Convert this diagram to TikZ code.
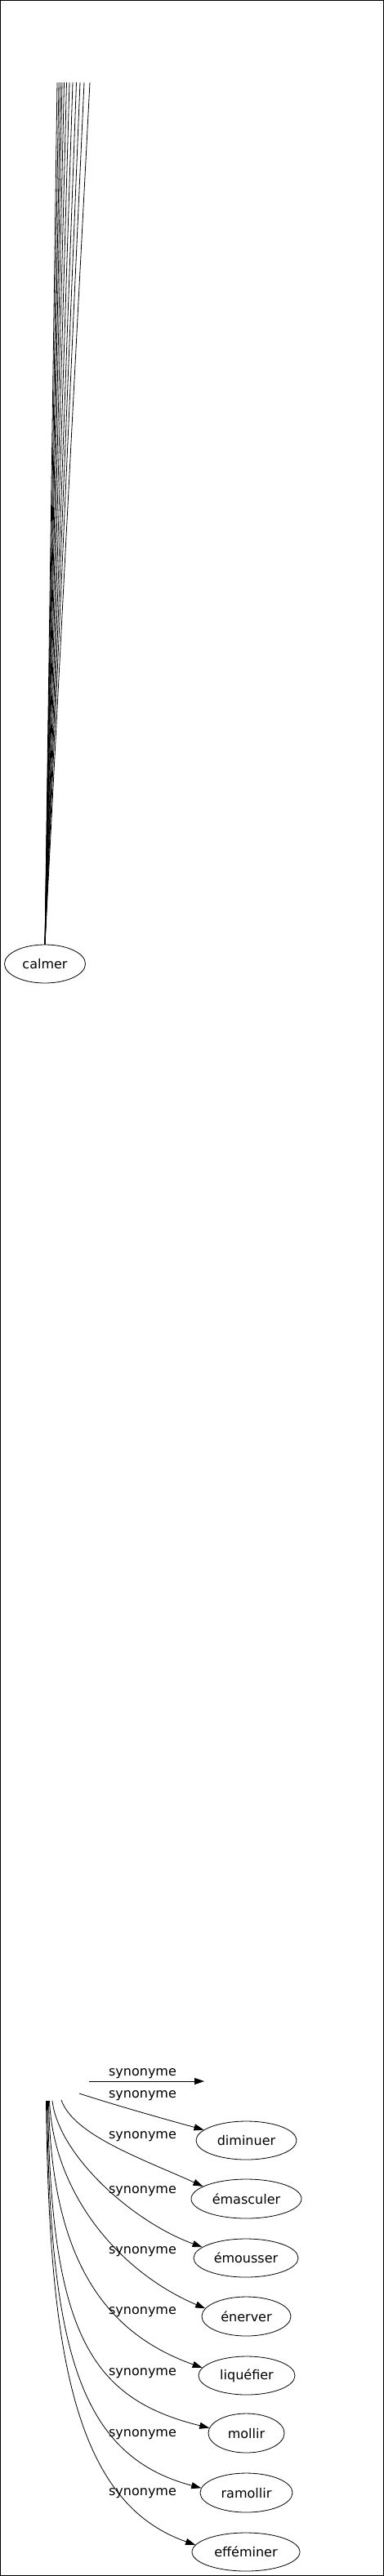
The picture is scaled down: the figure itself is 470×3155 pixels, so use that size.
\documentclass[tikz,border=0pt]{standalone}
\usepackage{fontspec}
\setmainfont{DejaVu Sans}
\usetikzlibrary{arrows.meta,shapes.geometric}
\begin{document}
\begin{tikzpicture}[x=1pt,y=-1pt,
  lemma/.style={draw, ellipse, inner sep=0pt, line width=0.8pt, font=\fontsize{16}{19}\selectfont},
  lbl/.style={inner sep=0pt, font=\fontsize{16}{19}\selectfont},
  syn/.style={line width=0.8pt, -{Triangle[length=12pt,width=8pt]}},
  feed/.style={line width=0.8pt}]
\useasboundingbox (0,0) rectangle (470,3155);
\draw[line width=1pt] (0.5,0.5) rectangle (469.5,3154.5);

% upper node and the bundle of lines reaching it
\node[lemma, minimum width=99pt, minimum height=47pt] (calmer) at (55,1180.5) {calmer};
\foreach \i/\x in {1/70,2/72,3/74,4/76,5/78.5,6/81.5,7/85,8/89,9/93.5,10/98,11/103,12/110}{
  \coordinate (top\i) at (\x,101);
  \draw[feed] (top\i) -- (calmer.north);
}

% lower targets
\node[lemma, minimum width=123pt, minimum height=47pt] (dim) at (301.5,2621.5) {diminuer};
\node[lemma, minimum width=135pt, minimum height=48pt] (ema) at (301.5,2693) {émasculer};
\node[lemma, minimum width=128pt, minimum height=47pt] (emo) at (301,2765.5) {émousser};
\node[lemma, minimum width=109pt, minimum height=48pt] (ene) at (301.5,2837) {énerver};
\node[lemma, minimum width=118pt, minimum height=47pt] (liq) at (302,2909.5) {liquéfier};
\node[lemma, minimum width=93pt, minimum height=48pt] (mol) at (301.5,2980) {mollir};
\node[lemma, minimum width=113pt, minimum height=48pt] (ram) at (301.5,3053) {ramollir};
\node[lemma, minimum width=132pt, minimum height=47pt] (eff) at (301,3125.5) {efféminer};

% edge start points
\coordinate (s1) at (109,2549);
\coordinate (t1) at (250,2549);
\coordinate (s2) at (97,2564);
\coordinate (s3) at (75,2572);
\coordinate (s4) at (64,2573);
\coordinate (s5) at (60.5,2573);
\coordinate (s6) at (59.5,2573);
\coordinate (s7) at (58.5,2573);
\coordinate (s8) at (57.5,2573);
\coordinate (s9) at (56.5,2573);

% edges
\draw[syn] (s1) -- (t1);
\draw[syn] (s2) .. controls (140,2578) and (200,2595) .. (dim.166);
\draw[syn] (s3) .. controls (90,2615) and (174,2644) .. (ema.164);
\draw[syn] (s4) .. controls (72,2640) and (162,2721) .. (emo.166);
\draw[syn] (s5) .. controls (66,2690) and (149,2784) .. (ene.169);
\draw[syn] (s6) .. controls (63,2770) and (130,2858) .. (liq.170);
\draw[syn] (s7) .. controls (62,2860) and (112,2938) .. (mol.172);
\draw[syn] (s8) .. controls (61,2880) and (98,3008) .. (ram.174);
\draw[syn] (s9) .. controls (60,2880) and (90,3065) .. (eff.172);

% edge labels
\node[lbl] (l1) at (174.5,2539.5) {synonyme};
\node[lbl] (l2) at (174.5,2566.5) {synonyme};
\node[lbl] (l3) at (174.5,2616.5) {synonyme};
\node[lbl] (l4) at (174.5,2683.5) {synonyme};
\node[lbl] (l5) at (174.5,2758) {synonyme};
\node[lbl] (l6) at (174.5,2831.5) {synonyme};
\node[lbl] (l7) at (174.5,2906.5) {synonyme};
\node[lbl] (l8) at (174.5,2981.5) {synonyme};
\node[lbl] (l9) at (174.5,3054) {synonyme};
\end{tikzpicture}
\end{document}
